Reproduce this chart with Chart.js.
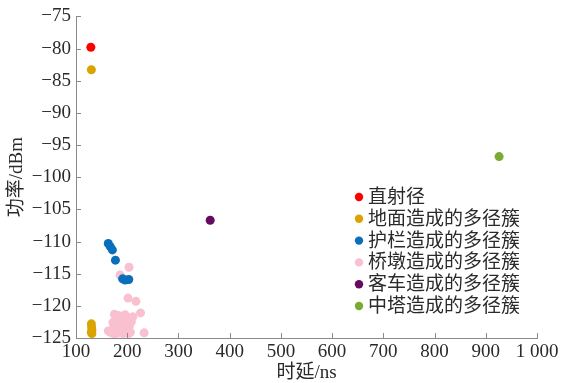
<!DOCTYPE html>
<html>
<head>
<meta charset="utf-8">
<script src="https://cdn.jsdelivr.net/npm/chart.js@4.4.1/dist/chart.umd.min.js"></script>
<style>
  html, body { margin: 0; padding: 0; background: #fff; }
  #wrap { width: 565px; height: 383px; }
</style>
</head>
<body>
<div id="wrap"><canvas id="c" width="565" height="383"></canvas></div>
<script>
// Series names
const seriesNames = ['直射径', '地面造成的多径簇', '护栏造成的多径簇', '桥墩造成的多径簇', '客车造成的多径簇', '中塔造成的多径簇'];
const seriesColors = ['#ff0000', '#d9a400', '#0a6fbb', '#f9c0cf', '#660a60', '#77ac30'];

// Delay (ns) / power (dBm) pairs for each path group
const directX = [129];
const directY = [-79.8];

const groundX = [130, 130, 130.5, 131, 130, 131];
const groundY = [-83.3, -122.8, -123.3, -123.8, -124.1, -124.3];

const railX = [163, 167, 171, 177, 191, 196, 203];
const railY = [-110.3, -110.8, -111.3, -112.9, -115.8, -116.0, -115.9];

const pierX = [186, 203.5, 201.5, 217, 226, 211, 233,
  175, 178, 183, 190, 196, 200, 172, 180, 187, 193, 199, 204,
  170, 176, 182, 189, 195, 201, 206, 173, 179, 186, 192, 198, 203, 208, 167, 163, 185];
const pierY = [-115.2, -114.0, -118.8, -119.3, -121.1, -121.7, -124.2,
  -121.3, -121.8, -121.5, -121.6, -121.4, -121.9, -122.6, -122.9, -122.4, -123.0, -122.7, -123.2,
  -123.8, -123.5, -124.0, -123.7, -124.2, -124.0, -124.1, -124.3, -124.3, -124.2, -124.3, -124.2, -124.3, -122.5, -124.1, -123.9, -123.3];

const busX = [362];
const busY = [-106.7];

const towerX = [926];
const towerY = [-96.8];

// Axis ticks
const xTicks = [100, 200, 300, 400, 500, 600, 700, 800, 900, 1000];
const yTicks = [-125, -120, -115, -110, -105, -100, -95, -90, -85, -80, -75];

const seriesX = [directX, groundX, railX, pierX, busX, towerX];
const seriesY = [directY, groundY, railY, pierY, busY, towerY];

const datasets = seriesNames.map((name, i) => ({
  label: name,
  data: seriesX[i].map((x, k) => ({ x: x, y: seriesY[i][k] })),
  backgroundColor: seriesColors[i],
  borderColor: seriesColors[i],
  borderWidth: 0,
  pointRadius: 4.5,
  pointHoverRadius: 4.5,
  clip: false
}));

const serif = '"Liberation Serif", "Noto Sans CJK SC", serif';
const axisColor = '#8a8a8a';
const textColor = '#2a2a2a';

// Short inward tick marks on both axes
const innerTicks = {
  id: 'innerTicks',
  afterDraw(chart) {
    const ctx = chart.ctx;
    const xs = chart.scales.x, ys = chart.scales.y;
    ctx.save();
    ctx.strokeStyle = axisColor;
    ctx.lineWidth = 1;
    ctx.beginPath();
    xs.ticks.forEach((t, i) => {
      const p = Math.round(xs.getPixelForTick(i)) + 0.5;
      ctx.moveTo(p, ys.bottom);
      ctx.lineTo(p, ys.bottom - 5);
    });
    ys.ticks.forEach((t, i) => {
      const p = Math.round(ys.getPixelForTick(i)) + 0.5;
      ctx.moveTo(xs.left, p);
      ctx.lineTo(xs.left + 5, p);
    });
    ctx.stroke();
    ctx.restore();
  }
};

// Legend box inside the plot area
const innerLegend = {
  id: 'innerLegend',
  afterDraw(chart) {
    const ctx = chart.ctx;
    ctx.save();
    ctx.font = '19px ' + serif;
    ctx.textBaseline = 'middle';
    ctx.textAlign = 'left';
    const x0 = 359, y0 = 197, step = 21.8;
    chart.data.datasets.forEach((ds, i) => {
      const y = y0 + i * step;
      ctx.fillStyle = ds.backgroundColor;
      ctx.beginPath();
      ctx.arc(x0, y, 4.2, 0, Math.PI * 2);
      ctx.fill();
      ctx.fillStyle = textColor;
      ctx.fillText(ds.label, x0 + 9, y + 1);
    });
    ctx.restore();
  }
};

new Chart(document.getElementById('c'), {
  type: 'scatter',
  data: { datasets: datasets },
  options: {
    responsive: false,
    animation: false,
    layout: { padding: { top: 15, right: 28, left: 0, bottom: 0 } },
    plugins: {
      legend: { display: false },
      tooltip: { enabled: false }
    },
    scales: {
      x: {
        type: 'linear',
        min: 100,
        max: 1000,
        afterBuildTicks(scale) { scale.ticks = xTicks.map(v => ({ value: v })); },
        afterFit(scale) { scale.height = 45; },
        grid: { display: true, drawOnChartArea: false, drawTicks: false },
        border: { display: true, color: axisColor, width: 1 },
        ticks: {
          padding: 3,
          color: textColor,
          font: { family: serif, size: 19 },
          maxRotation: 0,
          autoSkip: false,
          callback: v => v === 1000 ? '1 000' : String(v)
        },
        title: {
          display: true,
          text: '时延/ns',
          color: textColor,
          font: { family: serif, size: 19, lineHeight: 1 },
          padding: { top: 0, bottom: 0 }
        }
      },
      y: {
        type: 'linear',
        min: -125,
        max: -75,
        afterBuildTicks(scale) { scale.ticks = yTicks.map(v => ({ value: v })); },
        afterFit(scale) { scale.width = 76; },
        grid: { display: true, drawOnChartArea: false, drawTicks: false },
        border: { display: true, color: axisColor, width: 1 },
        ticks: {
          padding: 5,
          color: textColor,
          font: { family: serif, size: 19 },
          autoSkip: false,
          callback: v => (v < 0 ? '\u2212' + Math.abs(v) : String(v))
        },
        title: {
          display: true,
          text: '功率/dBm',
          color: textColor,
          font: { family: serif, size: 19, lineHeight: 1 },
          padding: { top: 8, bottom: 0 }
        }
      }
    }
  },
  plugins: [innerTicks, innerLegend]
});
</script>
</body>
</html>
